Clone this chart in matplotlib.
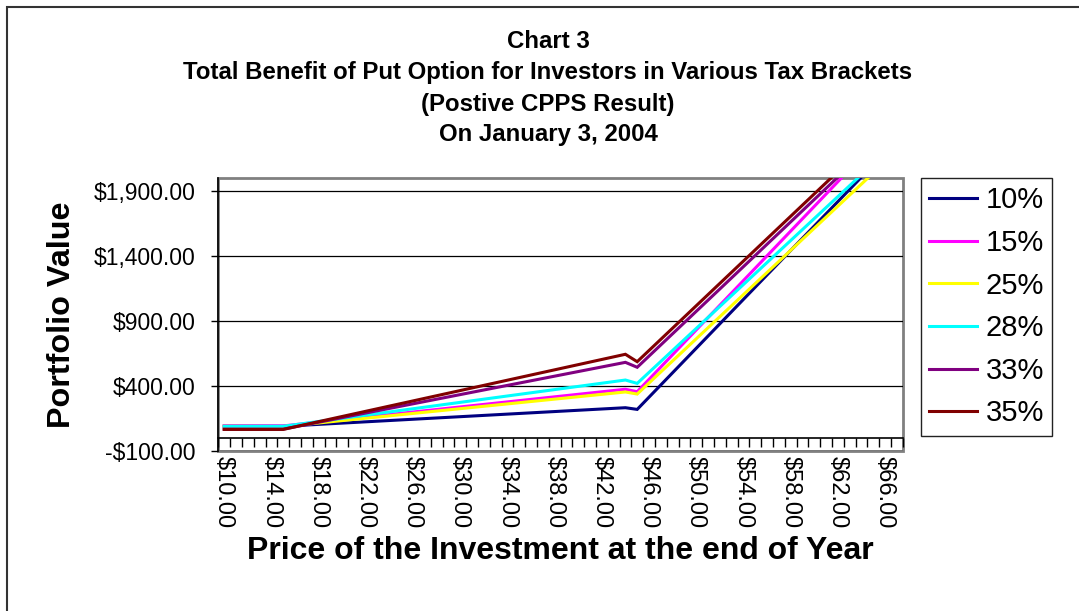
import matplotlib
matplotlib.use("Agg")
import matplotlib.pyplot as plt
from matplotlib.patches import Rectangle
from matplotlib.ticker import FixedLocator, FuncFormatter

plt.rcParams['font.family'] = ['Liberation Sans', 'DejaVu Sans']

# price at end of year (breakpoints of the piecewise lines)
prices = [10, 15, 44, 45, 67]

# portfolio value per tax bracket
labels = ['10%', '15%', '25%', '28%', '33%', '35%']
val_10 = [90, 90, 233, 220, 2288]
val_15 = [95, 93, 375, 356, 2446]
val_25 = [90, 88, 354, 338, 2208]
val_28 = [90, 90, 446, 420, 2279]
val_33 = [68, 68, 582, 544, 2436]
val_35 = [66, 66, 644, 587, 2479]
series = [val_10, val_15, val_25, val_28, val_33, val_35]
colors = ['#000080', '#FF00FF', '#FFFF00', '#00FFFF', '#800080', '#800000']

y_ticks = [-100, 400, 900, 1400, 1900]
x_label_ticks = list(range(10, 67, 4))

W, H = 1079, 611
fig = plt.figure(figsize=(W / 100, H / 100), dpi=100)

# outer chart border (only top and left visible in the crop)
fig.patches.append(Rectangle((7.3 / W, -0.1), 2.0, 1.1 - 6.7 / H, transform=fig.transFigure,
                             fill=False, edgecolor='#333333', linewidth=1.5))

ax = fig.add_axes([218.3 / W, 1 - 451 / H, 684.4 / W, 273 / H])

for vals, c, lab in zip(series, colors, labels):
    ax.plot(prices, vals, color=c, linewidth=2.2, label=lab, solid_joinstyle='miter')

ax.set_xlim(9.5, 67.5)
ax.set_ylim(-100, 2000)

# plot area frame
ax.patch.set_edgecolor('#808080')
ax.patch.set_linewidth(2.0)
ax.spines['top'].set_visible(False)
ax.spines['right'].set_visible(False)
ax.spines['left'].set_color('black')
ax.spines['left'].set_linewidth(1.2)
ax.spines['bottom'].set_position(('data', 0))
ax.spines['bottom'].set_color('black')
ax.spines['bottom'].set_linewidth(1.2)

ax.yaxis.set_major_locator(FixedLocator(y_ticks))
ax.yaxis.set_major_formatter(FuncFormatter(
    lambda v, p: f"-${abs(v):,.2f}" if v < 0 else f"${v:,.2f}"))
ax.tick_params(axis='y', direction='out', length=5, width=1, pad=11.5, labelsize=16.5)
ax.grid(axis='y', color='black', linewidth=0.9)
ax.set_axisbelow(True)

ax.xaxis.set_major_locator(FixedLocator(x_label_ticks))
ax.xaxis.set_major_formatter(FuncFormatter(lambda v, p: f"${v:.2f}"))
ax.xaxis.set_minor_locator(FixedLocator([p + 0.5 for p in range(9, 68)]))
ax.tick_params(axis='x', which='major', length=0, pad=13, labelsize=17, labelrotation=270)
ax.tick_params(axis='x', which='minor', direction='out', length=6.5, width=1)
for t in ax.get_xticklabels():
    t.set_va('top')
    t.set_ha('center')

# titles
title_lines = ['Chart 3',
               'Total Benefit of Put Option for Investors in Various Tax Brackets',
               '(Postive CPPS Result)',
               'On January 3, 2004']
for line, yc in zip(title_lines, [42, 73, 104, 135]):
    fig.text(548 / W, 1 - yc / H, line, ha='center', va='center',
             fontsize=17.3, fontweight='bold')

fig.text(62.5 / W, 1 - 315 / H, 'Portfolio Value', rotation=90, ha='center', va='center',
         fontsize=23.3, fontweight='bold')
fig.text(560 / W, 1 - 551 / H, 'Price of the Investment at the end of Year',
         ha='center', va='center', fontsize=23, fontweight='bold')

leg = ax.legend(loc='upper left', bbox_to_anchor=(920.7 / W, 1 - 178.3 / H),
                bbox_transform=fig.transFigure, fontsize=21, frameon=True,
                fancybox=False, edgecolor='#222222', framealpha=1,
                handlelength=1.65, handletextpad=0.29, labelspacing=0.5,
                borderpad=0.28, borderaxespad=0)
leg.get_frame().set_linewidth(1.0)

fig.savefig('out.png', dpi=100)
